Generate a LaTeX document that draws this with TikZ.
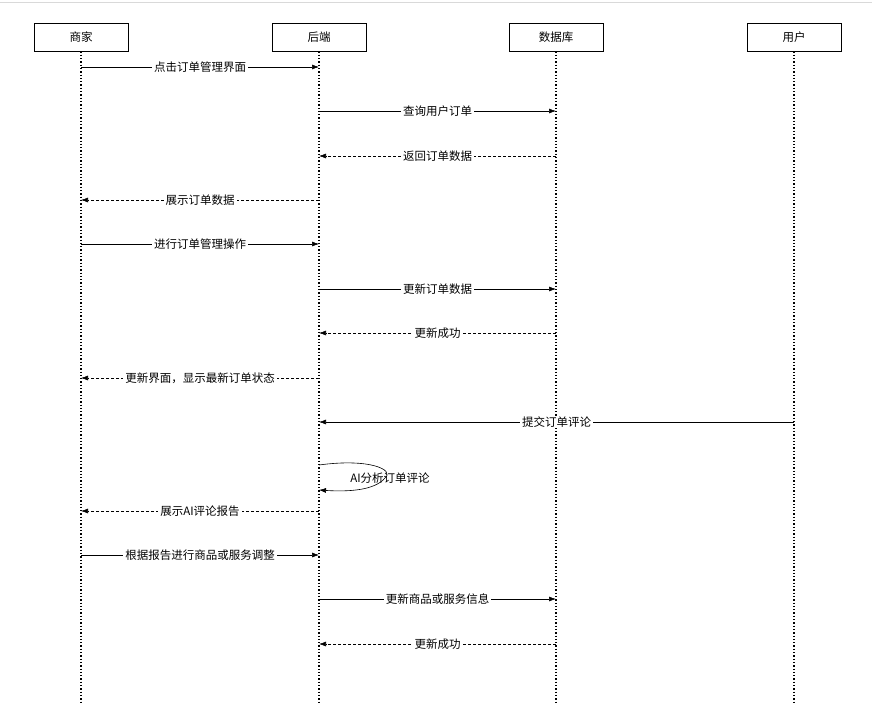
\documentclass[tikz,border=0pt]{standalone}
\usepackage{fontspec}
\setmainfont{Noto Sans CJK SC}
\usetikzlibrary{arrows.meta}
\begin{document}
\begin{tikzpicture}[x=1pt,y=-1pt,
  actor/.style={draw,line width=0.8pt,minimum width=94pt,minimum height=28pt,inner sep=0pt,font=\fontsize{11.5}{12}\selectfont},
  life/.style={line width=1.3pt,dotted},
  msg/.style={-{Latex[length=7pt,width=5pt]},line width=0.6pt},
  ret/.style={msg,dashed,dash pattern=on 3pt off 2pt},
  lbl/.style={fill=white,inner xsep=2pt,inner ysep=1pt,font=\fontsize{11.5}{12}\selectfont}]
\useasboundingbox (0,0) rectangle (872,718);
\draw[gray!30,line width=1pt] (0,2) -- (872,2);
\node[actor] (A) at (81,37) {商家};
\node[actor] (B) at (319,37) {后端};
\node[actor] (C) at (556,37) {数据库};
\node[actor] (D) at (794,37) {用户};
\foreach \n/\x in {A/81,B/319,C/556,D/794}{
  \coordinate (\n e) at (\x,703);
  \draw[life] (\n.south) -- (\n e);}
\foreach \s/\t/\y/\st/\txt in {
  A/B/67/msg/点击订单管理界面,
  B/C/111/msg/查询用户订单,
  C/B/156/ret/返回订单数据,
  B/A/200/ret/展示订单数据,
  A/B/244/msg/进行订单管理操作,
  B/C/289/msg/更新订单数据,
  C/B/333/ret/更新成功,
  B/A/378/ret/{更新界面，显示最新订单状态},
  D/B/422/msg/提交订单评论,
  B/A/511/ret/展示AI评论报告,
  A/B/555/msg/根据报告进行商品或服务调整,
  B/C/599/msg/更新商品或服务信息,
  C/B/644/ret/更新成功}{
  \draw[\st] (\s.south |- 0,\y) -- node[lbl]{\txt} (\t.south |- 0,\y);}
\coordinate (s1) at (319,465);
\coordinate (s2) at (319,490);
\draw[msg] (s1) .. controls (370,458) and (395,470) .. (385,478) .. controls (375,490) and (350,492) .. (s2);
\node[font=\fontsize{11.5}{12}\selectfont] at (390,478) {AI分析订单评论};
\end{tikzpicture}
\end{document}
